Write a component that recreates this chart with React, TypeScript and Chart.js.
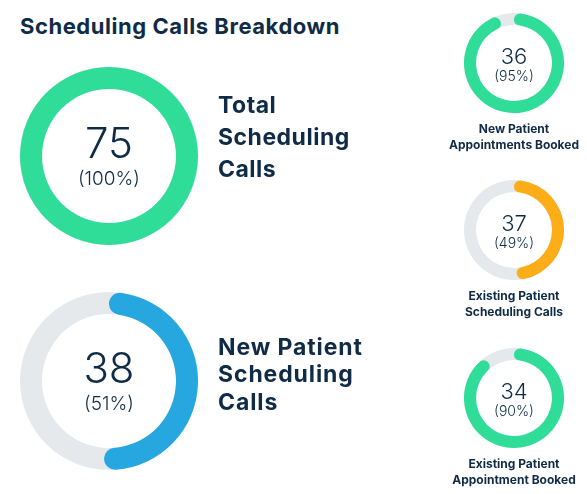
import React, { useEffect, useRef } from "react";
import { Chart, registerables } from "chart.js";

Chart.register(...registerables);

const TITLE = "Scheduling Calls Breakdown";

const bigLabels: string[][] = [
  ["Total", "Scheduling", "Calls"],
  ["New Patient", "Scheduling", "Calls"],
];
const bigValues = [75, 38];
const bigPercents = [100, 51];
const bigColors = ["#30dd98", "#27a7e0"];

const smallLabels: string[][] = [
  ["New Patient", "Appointments Booked"],
  ["Existing Patient", "Scheduling Calls"],
  ["Existing Patient", "Appointment Booked"],
];
const smallValues = [36, 37, 34];
const smallPercents = [95, 49, 90];
const smallColors = ["#30dd98", "#fdad18", "#30dd98"];

const TRACK = "#e6e9ec";
const NAVY = "#0f2b46";
const FONT = "Inter, 'Noto Sans', sans-serif";

const trackPlugin = {
  id: "track",
  beforeDatasetsDraw(chart: any) {
    const meta = chart.getDatasetMeta(0);
    const arc: any = meta.data[0];
    if (!arc) return;
    const { ctx } = chart;
    ctx.save();
    ctx.beginPath();
    ctx.arc(arc.x, arc.y, arc.outerRadius, 0, Math.PI * 2);
    ctx.arc(arc.x, arc.y, arc.innerRadius, 0, Math.PI * 2, true);
    ctx.closePath();
    ctx.fillStyle = TRACK;
    ctx.fill();
    ctx.restore();
  },
};

function Donut(props: { cx: number; cy: number; r: number; inner: number; pct: number; color: string }) {
  const ref = useRef<HTMLCanvasElement | null>(null);
  const { cx, cy, r, inner, pct, color } = props;
  useEffect(() => {
    if (!ref.current) return;
    const chart = new Chart(ref.current, {
      type: "doughnut",
      data: {
        labels: ["value", "rest"],
        datasets: [
          {
            data: [pct, 100 - pct],
            backgroundColor: [color, "rgba(0,0,0,0)"],
            borderWidth: 0,
            hoverOffset: 0,
            spacing: 0,
            borderRadius: (c: any) => (c.dataIndex === 0 && pct < 100 ? 999 : 0),
          } as any,
        ],
      },
      options: {
        animation: false,
        responsive: true,
        maintainAspectRatio: false,
        cutout: inner,
        layout: { padding: 0 },
        events: [],
        plugins: { legend: { display: false }, tooltip: { enabled: false } },
      } as any,
      plugins: [trackPlugin],
    });
    return () => chart.destroy();
  }, [cx, cy, r, inner, pct, color]);
  return (
    <div style={{ position: "absolute", left: cx - r, top: cy - r, width: r * 2, height: r * 2 }}>
      <canvas ref={ref} />
    </div>
  );
}

function Txt(props: {
  text: string;
  x: number;
  baseline: number;
  size: number;
  weight: number;
  align?: "left" | "center";
  spacing?: number;
}) {
  const { text, x, baseline, size, weight, align = "left", spacing = 0 } = props;
  const top = baseline - 0.864 * size;
  const style: React.CSSProperties = {
    position: "absolute",
    top,
    fontFamily: FONT,
    fontSize: size,
    fontWeight: weight,
    lineHeight: `${size}px`,
    color: NAVY,
    whiteSpace: "nowrap",
    letterSpacing: spacing,
  };
  if (align === "center") {
    style.left = x - 150;
    style.width = 300;
    style.textAlign = "center";
  } else {
    style.left = x;
  }
  return <div style={style}>{text}</div>;
}

export default function App() {
  const bigCenters = [156, 381];
  const bigLineH = [32, 27.5];
  const bigFirstBase = [113.5, 355.7];
  const bigSpacing = [0.5, 0.9];
  const smallCenters = [63, 230, 398];
  return (
    <div
      style={{
        position: "fixed",
        left: 0,
        top: 0,
        width: 587,
        height: 494,
        background: "#ffffff",
        overflow: "hidden",
      }}
    >
      <Txt text={TITLE} x={20} baseline={34} size={22} weight={650} spacing={0.55} />
      {bigValues.map((v, i) => (
        <React.Fragment key={"b" + i}>
          <Donut cx={109} cy={bigCenters[i]} r={89} inner={67} pct={bigPercents[i]} color={bigColors[i]} />
          <Txt text={String(v)} x={109} baseline={bigCenters[i] + 2} size={42} weight={300} align="center" />
          <Txt text={`(${bigPercents[i]}%)`} x={109} baseline={bigCenters[i] + 29} size={19} weight={300} align="center" />
          {bigLabels[i].map((l, j) => (
            <Txt key={j} text={l} x={218} baseline={bigFirstBase[i] + j * bigLineH[i]} size={23} weight={650} spacing={bigSpacing[i]} />
          ))}
        </React.Fragment>
      ))}
      {smallValues.map((v, i) => (
        <React.Fragment key={"s" + i}>
          <Donut cx={514} cy={smallCenters[i]} r={50} inner={38} pct={smallPercents[i]} color={smallColors[i]} />
          <Txt text={String(v)} x={514} baseline={smallCenters[i] + 1} size={22} weight={300} align="center" />
          <Txt text={`(${smallPercents[i]}%)`} x={514} baseline={smallCenters[i] + 18} size={14} weight={300} align="center" />
          {smallLabels[i].map((l, j) => (
            <Txt key={j} text={l} x={514} baseline={smallCenters[i] + 70 + j * 16} size={12} weight={650} align="center" />
          ))}
        </React.Fragment>
      ))}
    </div>
  );
}
